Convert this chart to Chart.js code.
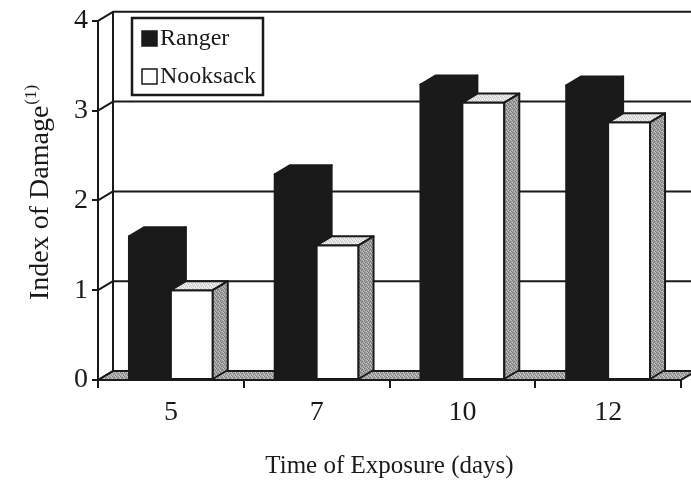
<!DOCTYPE html>
<html>
<head>
<meta charset="utf-8">
<title>Index of Damage</title>
<script src="https://cdn.jsdelivr.net/npm/chart.js@4.4.1/dist/chart.umd.min.js"></script>
<style>
  html, body { margin: 0; padding: 0; background: #fff; }
  #wrap { width: 691px; height: 486px; }
</style>
</head>
<body>
<div id="wrap"><canvas id="damageChart" width="691" height="486"></canvas></div>
<script>
// data
const days = ['5', '7', '10', '12'];
const ranger = [1.6, 2.29, 3.29, 3.28];
const nooksack = [1.0, 1.5, 3.09, 2.87];
const yTicks = [0, 1, 2, 3, 4];

// look of the 3d frame
const DX = 15, DY = 9;
const FONT = '"Liberation Serif", "Times New Roman", serif';
const INK = '#1a1a1a';

const canvas = document.getElementById('damageChart');
const ctx = canvas.getContext('2d');

// small dotted tile so the grey faces get the printed stipple look
function stipple(base, dark, light) {
  const c = document.createElement('canvas');
  c.width = 4; c.height = 4;
  const g = c.getContext('2d');
  g.fillStyle = base;
  g.fillRect(0, 0, 4, 4);
  g.fillStyle = dark;
  [[0, 0], [2, 1], [1, 2], [3, 3]].forEach(p => g.fillRect(p[0], p[1], 1, 1));
  g.fillStyle = light;
  [[2, 3], [0, 2], [3, 0]].forEach(p => g.fillRect(p[0], p[1], 1, 1));
  return ctx.createPattern(c, 'repeat');
}

const floorFill = stipple('#a9a9a9', '#7c7c7c', '#cfcfcf');
const faces = [
  { front: INK, top: INK, side: INK },
  { front: '#ffffff', top: stipple('#e4e4e4', '#c4c4c4', '#f6f6f6'), side: stipple('#9e9e9e', '#747474', '#c6c6c6') }
];

function face(pts, fill) {
  ctx.beginPath();
  ctx.moveTo(pts[0][0], pts[0][1]);
  for (let k = 1; k < pts.length; k++) ctx.lineTo(pts[k][0], pts[k][1]);
  ctx.closePath();
  ctx.fillStyle = fill;
  ctx.fill();
  ctx.stroke();
}

const depthPlugin = {
  id: 'depth',
  beforeDatasetsDraw(chart) {
    const a = chart.chartArea;
    const y = chart.scales.y;
    ctx.save();
    ctx.strokeStyle = INK;
    ctx.lineWidth = 2;
    ctx.lineJoin = 'round';
    // floor
    face([[a.left, a.bottom], [a.right, a.bottom], [a.right + DX, a.bottom - DY], [a.left + DX, a.bottom - DY]], floorFill);
    // gridlines on the back wall, joined to the axis across the side wall
    yTicks.forEach(v => {
      const py = y.getPixelForValue(v);
      ctx.beginPath();
      ctx.moveTo(a.left, py);
      ctx.lineTo(a.left + DX, py - DY);
      ctx.lineTo(chart.width + 2, py - DY);
      ctx.stroke();
    });
    ctx.beginPath();
    ctx.moveTo(a.left + DX, y.getPixelForValue(4) - DY);
    ctx.lineTo(a.left + DX, a.bottom - DY);
    ctx.stroke();
    ctx.restore();
  },
  afterDatasetsDraw(chart) {
    ctx.save();
    ctx.strokeStyle = INK;
    ctx.lineWidth = 2;
    ctx.lineJoin = 'round';
    days.forEach((d, i) => {
      [0, 1].forEach(di => {
        const bar = chart.getDatasetMeta(di).data[i].getProps(['x', 'y', 'base', 'width'], true);
        const l = bar.x - bar.width / 2, r = bar.x + bar.width / 2, t = bar.y, b = bar.base;
        const f = faces[di];
        face([[l, t], [r, t], [r, b], [l, b]], f.front);
        face([[l, t], [l + DX, t - DY], [r + DX, t - DY], [r, t]], f.top);
        face([[r, t], [r + DX, t - DY], [r + DX, b - DY], [r, b]], f.side);
      });
    });
    ctx.restore();
  },
  afterDraw(chart) {
    ctx.save();
    // legend box
    ctx.strokeStyle = INK;
    ctx.lineWidth = 2.5;
    ctx.fillStyle = '#fff';
    ctx.fillRect(132, 18, 131, 77);
    ctx.strokeRect(132, 18, 131, 77);
    ctx.font = '24px ' + FONT;
    ctx.textBaseline = 'middle';
    chart.data.datasets.forEach((ds, k) => {
      const cy = 38 + k * 38;
      ctx.lineWidth = 1.5;
      ctx.fillStyle = ds.backgroundColor;
      ctx.fillRect(142, cy - 7, 15, 15);
      ctx.strokeRect(142, cy - 7, 15, 15);
      ctx.fillStyle = INK;
      ctx.fillText(ds.label, 160, cy + 1);
    });
    // y title with its footnote mark
    ctx.translate(48, 300);
    ctx.rotate(-Math.PI / 2);
    ctx.textBaseline = 'alphabetic';
    ctx.font = '28px ' + FONT;
    ctx.fillText('Index of Damage', 0, 0);
    const w = ctx.measureText('Index of Damage').width;
    ctx.font = '17px ' + FONT;
    ctx.fillText('(1)', w + 1, -12);
    ctx.restore();
  }
};

new Chart(ctx, {
  type: 'bar',
  data: {
    labels: days,
    datasets: [
      { label: 'Ranger', data: ranger, backgroundColor: INK, borderColor: INK, borderWidth: 2 },
      { label: 'Nooksack', data: nooksack, backgroundColor: '#ffffff', borderColor: INK, borderWidth: 2 }
    ]
  },
  options: {
    responsive: false,
    animation: false,
    layout: { padding: { top: 19, right: 10, left: 0, bottom: 0 } },
    datasets: { bar: { categoryPercentage: 0.575, barPercentage: 1 } },
    plugins: { legend: { display: false }, tooltip: { enabled: false } },
    scales: {
      x: {
        grid: { drawOnChartArea: false, drawTicks: true, tickLength: 8, color: INK, lineWidth: 2, offset: true },
        border: { display: true, color: INK, width: 2 },
        ticks: { color: INK, font: { family: FONT, size: 28 }, padding: 8 },
        title: { display: true, text: 'Time of Exposure (days)', color: INK, font: { family: FONT, size: 25 }, padding: { top: 10, bottom: 5 } },
        afterFit(s) { s.height = 106; }
      },
      y: {
        min: 0,
        max: 4,
        ticks: { stepSize: 1, color: INK, font: { family: FONT, size: 28 }, padding: 4 },
        grid: { drawOnChartArea: false, drawTicks: true, tickLength: 6, color: INK, lineWidth: 2 },
        border: { display: true, color: INK, width: 2 },
        afterFit(s) { s.width = 98; }
      }
    }
  },
  plugins: [depthPlugin]
});
</script>
</body>
</html>
